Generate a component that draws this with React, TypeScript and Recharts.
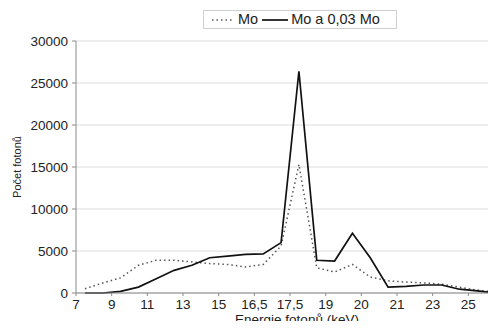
import React from "react";
import { LineChart, Line, XAxis, YAxis, CartesianGrid, Label } from "recharts";

// 24 energy bins; tick labels sit on every second bin boundary
const tickLabels = ["7", "9", "11", "13", "15", "16,5", "17,5", "19", "20", "21", "23", "25"];
const seriesNames = ["Mo", "Mo a 0,03 Mo"];
const moValues = [
  500, 1200, 1800, 3300, 3900, 3900, 3700, 3500, 3400, 3100, 3400, 5600,
  15300, 3000, 2500, 3400, 1900, 1450, 1300, 1200, 1050, 700, 350, 100,
];
const moFilteredValues = [
  0, 0, 200, 700, 1700, 2700, 3300, 4200, 4400, 4600, 4650, 6000,
  26400, 3900, 3800, 7100, 4200, 700, 800, 950, 950, 450, 250, 0,
];
const yTicks = [0, 5000, 10000, 15000, 20000, 25000, 30000];

const FONT = '"Liberation Sans", Arial, Helvetica, sans-serif';

const data = moValues.map((v, i) => ({
  x: i + 0.5,
  mo: v,
  moFiltered: moFilteredValues[i],
}));
const xTicks = tickLabels.map((_, i) => i * 2);

export default function App() {
  return (
    <div
      style={{
        margin: -8,
        width: 496,
        height: 329,
        overflow: "hidden",
        position: "relative",
        background: "#fff",
        fontFamily: FONT,
      }}
    >
      <LineChart width={504} height={329} data={data} margin={{ top: 41, right: 0, bottom: 0, left: 0 }}>
        <CartesianGrid vertical={false} stroke="#dcdcdc" />
        <XAxis
          type="number"
          dataKey="x"
          domain={[0, 24]}
          ticks={xTicks}
          tickFormatter={(v) => tickLabels[v / 2]}
          interval={0}
          height={36}
          stroke="#8a8a8a"
          tickSize={3}
          tickMargin={3}
          tick={{ fontSize: 13.5, fill: "#222", fontFamily: FONT }}
        >
          <Label
            content={() => (
              <text
                x={297}
                y={324}
                textAnchor="middle"
                style={{ fontSize: 13.5, fill: "#222", fontFamily: FONT }}
              >
                Energie fotonů (keV)
              </text>
            )}
          />
        </XAxis>
        <YAxis
          domain={[0, 30000]}
          ticks={yTicks}
          interval={0}
          width={76}
          stroke="#8a8a8a"
          tickSize={4}
          tickMargin={4}
          tick={{ fontSize: 13.5, fill: "#222", fontFamily: FONT }}
        >
          <Label
            content={({ viewBox }: any) => {
              const cy = viewBox.y + viewBox.height / 2;
              return (
                <text
                  x={21}
                  y={cy}
                  transform={`rotate(-90, 21, ${cy})`}
                  textAnchor="middle"
                  style={{ fontSize: 11, fill: "#222", fontFamily: FONT }}
                >
                  Počet fotonů
                </text>
              );
            }}
          />
        </YAxis>
        <Line
          type="linear"
          dataKey="mo"
          name={seriesNames[0]}
          stroke="#555"
          strokeWidth={1.5}
          strokeDasharray="1.5 3"
          dot={false}
          isAnimationActive={false}
        />
        <Line
          type="linear"
          dataKey="moFiltered"
          name={seriesNames[1]}
          stroke="#111"
          strokeWidth={1.7}
          dot={false}
          isAnimationActive={false}
        />
      </LineChart>
      <div
        style={{
          position: "absolute",
          left: 203,
          top: 10,
          width: 192,
          height: 17,
          border: "1px solid #cfcfcf",
          display: "flex",
          alignItems: "center",
          fontSize: 14.5,
          color: "#222",
          lineHeight: 1,
        }}
      >
        <svg width={22} height={4} style={{ marginLeft: 8 }}>
          <line x1={0} y1={2} x2={22} y2={2} stroke="#555" strokeWidth={1.5} strokeDasharray="1.5 3" />
        </svg>
        <span style={{ marginLeft: 4 }}>{seriesNames[0]}</span>
        <svg width={26} height={4} style={{ marginLeft: 4 }}>
          <line x1={0} y1={2} x2={26} y2={2} stroke="#111" strokeWidth={1.7} />
        </svg>
        <span style={{ marginLeft: 3 }}>{seriesNames[1]}</span>
      </div>
    </div>
  );
}
